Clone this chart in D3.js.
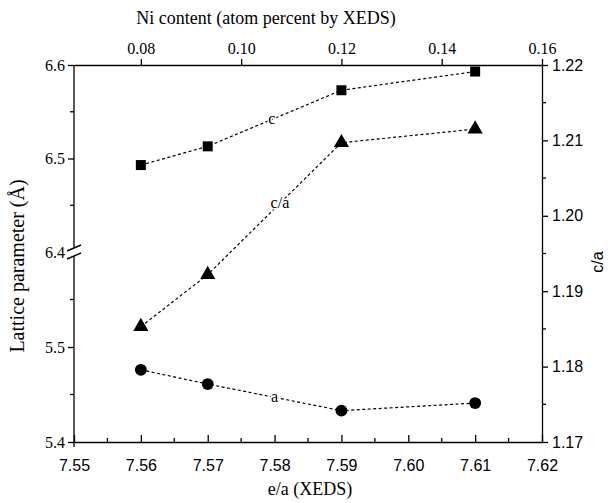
<!DOCTYPE html>
<html>
<head>
<meta charset="utf-8">
<script src="https://cdnjs.cloudflare.com/ajax/libs/d3/7.8.5/d3.min.js"></script>
<style>
    body { margin: 0; background: #fff; }
</style>
</head>
<body>
<div id="chart"></div>
<script>
(function(d3) {

    "use strict";

    // e/a (XEDS) positions
    var eaValues = [7.56, 7.57, 7.59, 7.61];
    // lattice parameter c (upper segment, Å)
    var cValues = [6.493, 6.513, 6.573, 6.593];
    // lattice parameter a (lower segment, Å)
    var aValues = [5.476, 5.461, 5.433, 5.441];
    // c/a ratio (right axis)
    var caValues = [1.1853, 1.1922, 1.2097, 1.2115];

    var bottomTicks = [7.55, 7.56, 7.57, 7.58, 7.59, 7.60, 7.61, 7.62];
    var topTicks = [0.08, 0.10, 0.12, 0.14, 0.16];
    var rightTicks = [1.17, 1.18, 1.19, 1.20, 1.21, 1.22];
    var lowerTicks = [5.4, 5.5];
    var upperTicks = [6.4, 6.5, 6.6];

    var SERIF = "'Liberation Serif', 'Times New Roman', serif",
        SANS = "'Liberation Sans', Arial, sans-serif";

    var width = 611,
        height = 503,
        left = 74,
        right = 542,
        top = 65,
        bottom = 442,
        breakY = 252;

    var svg = d3.select("#chart").append("svg")
        .attr("width", width)
        .attr("height", height);

    var x = d3.scaleLinear().domain([7.55, 7.62]).range([left, right]);
    // Ni content relates linearly to e/a: 7.56 -> 0.08, 7.62 -> 0.16
    var xTop = d3.scaleLinear().domain([0.08 - 0.01 * 4 / 3, 0.16]).range([left, right]);
    var yLow = d3.scaleLinear().domain([5.4, 5.6]).range([bottom, breakY]);
    var yUp = d3.scaleLinear().domain([6.4, 6.6]).range([breakY, top]);
    var yRight = d3.scaleLinear().domain([1.17, 1.22]).range([bottom, top]);

    function styleAxis(g, family, size) {
        g.selectAll("path, line").attr("stroke", "#000").attr("stroke-width", 1.3);
        g.selectAll("text")
            .attr("fill", "#000")
            .attr("font-family", family)
            .attr("font-size", size);
    }

    // bottom axis: ticks inward
    var gBottom = svg.append("g").attr("transform", "translate(0," + bottom + ")");
    gBottom.call(d3.axisBottom(x).tickValues(bottomTicks).tickFormat(d3.format(".2f"))
        .tickSizeInner(-7).tickSizeOuter(0).tickPadding(18));
    gBottom.selectAll(".minor").data(d3.range(7.555, 7.62, 0.01)).enter()
        .append("line").attr("class", "minor")
        .attr("x1", x).attr("x2", x).attr("y1", 0).attr("y2", -4);
    styleAxis(gBottom, SANS, 16);

    // top axis: ticks outward
    var gTop = svg.append("g").attr("transform", "translate(0," + top + ")");
    gTop.call(d3.axisTop(xTop).tickValues(topTicks).tickFormat(d3.format(".2f"))
        .tickSizeInner(6).tickSizeOuter(0).tickPadding(5));
    styleAxis(gTop, SERIF, 16);

    // right axis: c/a
    var gRight = svg.append("g").attr("transform", "translate(" + right + ",0)");
    gRight.call(d3.axisRight(yRight).tickValues(rightTicks).tickFormat(d3.format(".2f"))
        .tickSizeInner(6).tickSizeOuter(0).tickPadding(4));
    gRight.selectAll(".minor").data(d3.range(1.175, 1.22, 0.01)).enter()
        .append("line").attr("class", "minor")
        .attr("y1", yRight).attr("y2", yRight).attr("x1", 0).attr("x2", 4);
    styleAxis(gRight, SANS, 16);

    // left axis, broken: two segments
    var gLow = svg.append("g").attr("transform", "translate(" + left + ",0)");
    gLow.call(d3.axisLeft(yLow).tickValues(lowerTicks).tickFormat(d3.format(".1f"))
        .tickSizeInner(6).tickSizeOuter(0).tickPadding(3));
    gLow.select(".domain").remove();
    gLow.selectAll(".minor").data([5.45, 5.55]).enter()
        .append("line").attr("class", "minor")
        .attr("y1", yLow).attr("y2", yLow).attr("x1", 0).attr("x2", -4);
    gLow.append("line").attr("x1", 0).attr("x2", 0)
        .attr("y1", bottom + 5).attr("y2", breakY + 4);
    styleAxis(gLow, SERIF, 16);

    var gUp = svg.append("g").attr("transform", "translate(" + left + ",0)");
    gUp.call(d3.axisLeft(yUp).tickValues(upperTicks).tickFormat(d3.format(".1f"))
        .tickSizeInner(6).tickSizeOuter(0).tickPadding(3));
    gUp.select(".domain").remove();
    gUp.selectAll(".tick").filter(function(d) { return d === 6.4; }).select("line").remove();
    gUp.selectAll(".minor").data([6.45, 6.55]).enter()
        .append("line").attr("class", "minor")
        .attr("y1", yUp).attr("y2", yUp).attr("x1", 0).attr("x2", -4);
    gUp.append("line").attr("x1", 0).attr("x2", 0)
        .attr("y1", top).attr("y2", breakY - 4);
    styleAxis(gUp, SERIF, 16);

    // break marks
    [-4, 4].forEach(function(off) {
        svg.append("line")
            .attr("x1", left - 7).attr("x2", left + 7)
            .attr("y1", breakY + off + 3).attr("y2", breakY + off - 3)
            .attr("stroke", "#000").attr("stroke-width", 1.4);
    });

    // axis titles
    svg.append("text")
        .attr("x", 266).attr("y", 24)
        .attr("text-anchor", "middle")
        .attr("font-family", SERIF).attr("font-size", 18)
        .text("Ni content (atom percent by XEDS)");
    svg.append("text")
        .attr("x", (left + right) / 2 + 2).attr("y", 495)
        .attr("text-anchor", "middle")
        .attr("font-family", SERIF).attr("font-size", 18)
        .text("e/a (XEDS)");
    svg.append("text")
        .attr("transform", "translate(24,266) rotate(-90)")
        .attr("text-anchor", "middle")
        .attr("font-family", SERIF).attr("font-size", 20)
        .text("Lattice parameter (Å)");
    svg.append("text")
        .attr("transform", "translate(603,262) rotate(-90)")
        .attr("text-anchor", "middle")
        .attr("font-family", SANS).attr("font-size", 16)
        .text("c/a");

    // series
    var series = [
        { name: "c", values: cValues, y: yUp, shape: d3.symbolSquare, size: 100, label: 7.5796 },
        { name: "c/a", values: caValues, y: yRight, shape: d3.symbolTriangle, size: 100, label: 7.5808 },
        { name: "a", values: aValues, y: yLow, shape: d3.symbolCircle, size: 110, label: 7.5800 }
    ];

    series.forEach(function(s) {
        var pts = eaValues.map(function(e, i) { return [x(e), s.y(s.values[i])]; });

        svg.append("path")
            .attr("d", d3.line()(pts))
            .attr("fill", "none")
            .attr("stroke", "#000")
            .attr("stroke-width", 1.2)
            .attr("stroke-dasharray", "3,2.5");

        // label sits on the line, with a white halo cutting the dashes
        var lx = x(s.label);
        var seg = d3.bisectLeft(pts.map(function(p) { return p[0]; }), lx);
        var p0 = pts[seg - 1], p1 = pts[seg];
        var ly = p0[1] + (p1[1] - p0[1]) * (lx - p0[0]) / (p1[0] - p0[0]);
        svg.append("text")
            .attr("x", lx).attr("y", ly + 5)
            .attr("text-anchor", "middle")
            .attr("font-family", SERIF).attr("font-size", 16)
            .attr("stroke", "#fff").attr("stroke-width", 3)
            .attr("paint-order", "stroke")
            .text(s.name);

        svg.selectAll(null).data(pts).enter()
            .append("path")
            .attr("transform", function(p) { return "translate(" + p[0] + "," + p[1] + ")"; })
            .attr("d", d3.symbol().type(s.shape).size(s.size))
            .attr("fill", "#000");
    });

})(d3);
</script>
</body>
</html>
